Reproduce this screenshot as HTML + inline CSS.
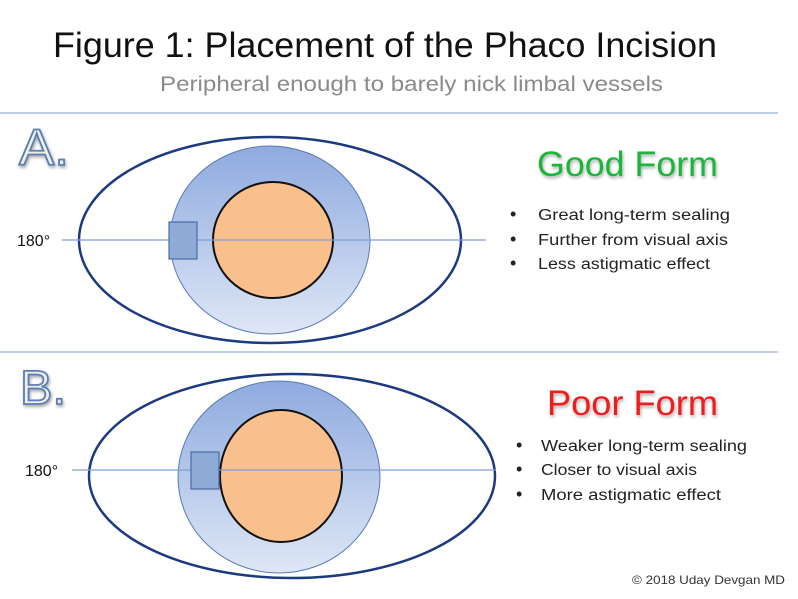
<!DOCTYPE html>
<html><head><meta charset="utf-8"><style>
html,body{margin:0;padding:0;background:#fff;width:798px;height:599px;overflow:hidden}
svg{display:block}
text{font-family:"Liberation Sans",sans-serif}
</style></head><body>
<svg width="798" height="599" viewBox="0 0 798 599" xmlns="http://www.w3.org/2000/svg">
<defs>
<linearGradient id="bg" x1="0" y1="0" x2="0" y2="1">
<stop offset="0" stop-color="#8eaadf"/><stop offset="1" stop-color="#dfe7f6"/>
</linearGradient>
<filter id="sh" x="-10%" y="-10%" width="120%" height="130%"><feGaussianBlur in="SourceAlpha" stdDeviation="1.5"/><feOffset dx="1" dy="2"/><feComponentTransfer><feFuncA type="linear" slope="0.35"/></feComponentTransfer><feMerge><feMergeNode/><feMergeNode in="SourceGraphic"/></feMerge></filter>
</defs>
<text x="53" y="57" font-size="35" fill="#111" textLength="664" lengthAdjust="spacingAndGlyphs">Figure 1: Placement of the Phaco Incision</text>
<text x="160" y="91" font-size="21" fill="#8a8a8a" textLength="503" lengthAdjust="spacingAndGlyphs">Peripheral enough to barely nick limbal vessels</text>
<line x1="0" y1="113" x2="778" y2="113" stroke="#a9bde0" stroke-width="1.5"/>
<line x1="0" y1="352" x2="778" y2="352" stroke="#a9bde0" stroke-width="1.5"/>

<!-- A -->
<text x="19" y="165" font-size="51" fill="#f3f0e0" stroke="#5a7fb8" stroke-width="1.8" filter="url(#sh)" textLength="50" lengthAdjust="spacingAndGlyphs">A.</text>
<ellipse cx="270" cy="240" rx="191" ry="103" fill="#fff" stroke="#1d3a80" stroke-width="2.5"/>
<ellipse cx="270" cy="240" rx="100" ry="94" fill="url(#bg)" stroke="#5a7ab5" stroke-width="1"/>
<ellipse cx="273" cy="240" rx="60" ry="58" fill="#f9bf8c" stroke="#111" stroke-width="2"/>
<line x1="62" y1="240" x2="486" y2="240" stroke="#7f9fd4" stroke-width="1.2"/>
<rect x="169" y="222" width="28" height="37" fill="#8eaad6" stroke="#4a6aa8" stroke-width="1.2"/>
<text x="17" y="246" font-size="16" fill="#111">180°</text>
<text x="537" y="176" font-size="35" fill="#1bb53a" filter="url(#sh)" textLength="181" lengthAdjust="spacingAndGlyphs">Good Form</text>
<g font-size="15.5" fill="#222">
<text x="510" y="220" font-size="18">•</text><text x="538" y="220" textLength="192" lengthAdjust="spacingAndGlyphs">Great long-term sealing</text>
<text x="510" y="245" font-size="18">•</text><text x="538" y="245" textLength="190" lengthAdjust="spacingAndGlyphs">Further from visual axis</text>
<text x="510" y="269" font-size="18">•</text><text x="538" y="269" textLength="172" lengthAdjust="spacingAndGlyphs">Less astigmatic effect</text>
</g>

<!-- B -->
<text x="20" y="404" font-size="48" fill="#f3f0e0" stroke="#5a7fb8" stroke-width="1.8" filter="url(#sh)" textLength="46" lengthAdjust="spacingAndGlyphs">B.</text>
<ellipse cx="292" cy="476" rx="203" ry="102" fill="#fff" stroke="#1d3a80" stroke-width="2.5"/>
<ellipse cx="279" cy="477" rx="101" ry="96" fill="url(#bg)" stroke="#5a7ab5" stroke-width="1"/>
<ellipse cx="281" cy="476" rx="61" ry="66" fill="#f9bf8c" stroke="#111" stroke-width="2"/>
<line x1="72" y1="470" x2="496" y2="470" stroke="#7f9fd4" stroke-width="1.2"/>
<rect x="191" y="452" width="28" height="37" fill="#8eaad6" stroke="#4a6aa8" stroke-width="1.2"/>
<text x="25" y="476" font-size="16" fill="#111">180°</text>
<text x="547" y="415" font-size="35" fill="#ee1b1b" filter="url(#sh)" textLength="171" lengthAdjust="spacingAndGlyphs">Poor Form</text>
<g font-size="15.5" fill="#222">
<text x="516" y="451" font-size="18">•</text><text x="541" y="451" textLength="206" lengthAdjust="spacingAndGlyphs">Weaker long-term sealing</text>
<text x="516" y="475" font-size="18">•</text><text x="541" y="475" textLength="156" lengthAdjust="spacingAndGlyphs">Closer to visual axis</text>
<text x="516" y="500" font-size="18">•</text><text x="541" y="500" textLength="180" lengthAdjust="spacingAndGlyphs">More astigmatic effect</text>
</g>
<text x="632" y="584" font-size="12" fill="#333" textLength="153" lengthAdjust="spacingAndGlyphs">© 2018 Uday Devgan MD</text>
</svg>
</body></html>
